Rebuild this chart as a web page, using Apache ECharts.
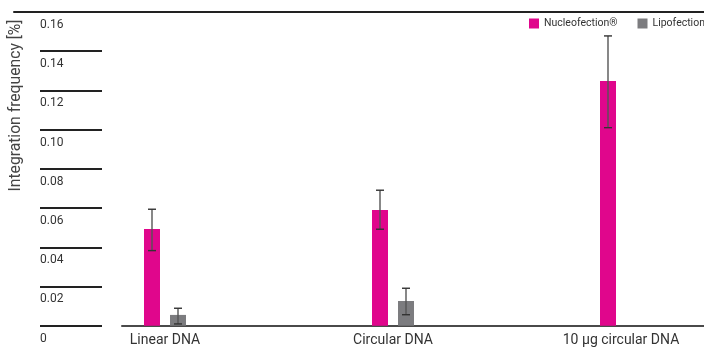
<!DOCTYPE html>
<html><head><meta charset="utf-8">
<script src="https://cdn.jsdelivr.net/npm/echarts@6/dist/echarts.min.js"></script>
<style>html,body{margin:0;padding:0;background:#fff}#c{width:704px;height:355px}</style>
</head><body><div id="c"></div>
<script>
const categories = ['Linear DNA', 'Circular DNA', '10 µg circular DNA'];
const seriesNames = ['Nucleofection®', 'Lipofection'];
const nucleoValues = [0.0493, 0.0590, 0.1248];
const nucleoLow    = [0.0383, 0.0492, 0.1010];
const nucleoHigh   = [0.0594, 0.0691, 0.1478];
const lipoValues = [0.0055, 0.0126, null];
const lipoLow    = [0.0009, 0.0056, null];
const lipoHigh   = [0.0089, 0.0191, null];
const yMin = 0, yMax = 0.16, yStep = 0.02;
const yTickLabels = ['0', '0.02', '0.04', '0.06', '0.08', '0.10', '0.12', '0.14', '0.16'];

const FONT = 'Roboto';
const MAGENTA = '#e0068c';
const GRAY = '#7c7c7f';
const BAR_W = 16, BAR_GAP = 10, CAP = 4;
const OFF = (BAR_W + BAR_GAP) / 2;

function errData(lo, hi) {
  const out = [];
  lo.forEach((v, i) => { if (v != null && hi[i] != null) out.push([i, v, hi[i]]); });
  return out;
}
function errRenderer(offset) {
  return function (params, api) {
    const i = api.value(0);
    const pLo = api.coord([i, api.value(1)]);
    const pHi = api.coord([i, api.value(2)]);
    const x = pLo[0] + offset;
    return {
      type: 'group', children: [
        { type: 'line', shape: { x1: x, y1: pHi[1], x2: x, y2: pLo[1] }, style: { stroke: '#555', lineWidth: 1.4 } },
        { type: 'line', shape: { x1: x - CAP, y1: pHi[1], x2: x + CAP, y2: pHi[1] }, style: { stroke: '#333', lineWidth: 1.4 } },
        { type: 'line', shape: { x1: x - CAP, y1: pLo[1], x2: x + CAP, y2: pLo[1] }, style: { stroke: '#333', lineWidth: 1.4 } }
      ]
    };
  };
}

const chart = echarts.init(document.getElementById('c'), null, { renderer: 'canvas' });
const plotBottom = 29.3;
chart.setOption({
  animation: false,
  textStyle: { fontFamily: FONT },
  legend: {
    left: 529, top: 18, width: 400, padding: 0, orient: 'horizontal', itemWidth: 10, itemHeight: 10, itemGap: 20,
    icon: 'rect',
    data: seriesNames,
    textStyle: { fontFamily: FONT, fontSize: 10.5, color: '#333' },
    selectedMode: false
  },
  grid: [
    { left: 51, width: 684, top: 12, bottom: plotBottom, outerBoundsMode: 'none', containLabel: false },
    { left: 122, right: 0, top: 12, bottom: plotBottom },
    { left: 10, right: 0, top: 12, height: 187 },
    { left: 40, width: 62, top: 12, bottom: plotBottom }
  ],
  xAxis: [
    { gridIndex: 0, type: 'category', data: categories, axisLine: { show: false }, axisTick: { show: false },
      axisLabel: { fontFamily: FONT, fontSize: 14, color: '#333', margin: 8, interval: 0 } },
    { gridIndex: 1, type: 'value', min: 0, max: 1, axisLine: { onZero: false, lineStyle: { color: '#4a4a4a', width: 2 } },
      axisTick: { show: false }, axisLabel: { show: false }, splitLine: { show: false } },
    { gridIndex: 2, type: 'value', position: 'top', min: 0, max: 1, axisLine: { onZero: false, lineStyle: { color: '#222', width: 2 } },
      axisTick: { show: false }, axisLabel: { show: false }, splitLine: { show: false } },
    { gridIndex: 3, type: 'value', min: 0, max: 1, show: false }
  ],
  yAxis: [
    { gridIndex: 0, type: 'value', min: yMin, max: yMax, show: false },
    { gridIndex: 1, type: 'value', min: 0, max: 1, show: false },
    { gridIndex: 2, type: 'value', min: 0, max: 1, name: 'Integration frequency [%]', nameLocation: 'middle', nameGap: -10,
      nameTextStyle: { fontFamily: FONT, fontSize: 15.7, color: '#444' },
      axisLine: { show: false }, axisTick: { show: false }, axisLabel: { show: false }, splitLine: { show: false } },
    { gridIndex: 3, type: 'value', min: yMin, max: yMax, interval: yStep,
      axisLine: { show: false }, axisTick: { show: false },
      splitLine: { show: true, lineStyle: { color: '#222', width: 2 } },
      axisLabel: { inside: true, margin: 0, align: 'left', verticalAlign: 'top', padding: [7, 0, 0, 0],
        fontFamily: FONT, fontSize: 12, color: '#333',
        formatter: (v) => yTickLabels[Math.round((v - yMin) / yStep)] } }
  ],
  series: [
    { name: seriesNames[0], type: 'bar', xAxisIndex: 0, yAxisIndex: 0, data: nucleoValues, barWidth: BAR_W,
      barGap: (BAR_GAP / BAR_W * 100) + '%', itemStyle: { color: MAGENTA } },
    { name: seriesNames[1], type: 'bar', xAxisIndex: 0, yAxisIndex: 0, data: lipoValues, barWidth: BAR_W,
      barGap: (BAR_GAP / BAR_W * 100) + '%', itemStyle: { color: GRAY } },
    { type: 'custom', xAxisIndex: 0, yAxisIndex: 0, renderItem: errRenderer(-OFF), data: errData(nucleoLow, nucleoHigh), z: 5,
      encode: { x: 0, y: [1, 2] } },
    { type: 'custom', xAxisIndex: 0, yAxisIndex: 0, renderItem: errRenderer(OFF), data: errData(lipoLow, lipoHigh), z: 5,
      encode: { x: 0, y: [1, 2] } }
  ]
});
</script>
</body></html>
